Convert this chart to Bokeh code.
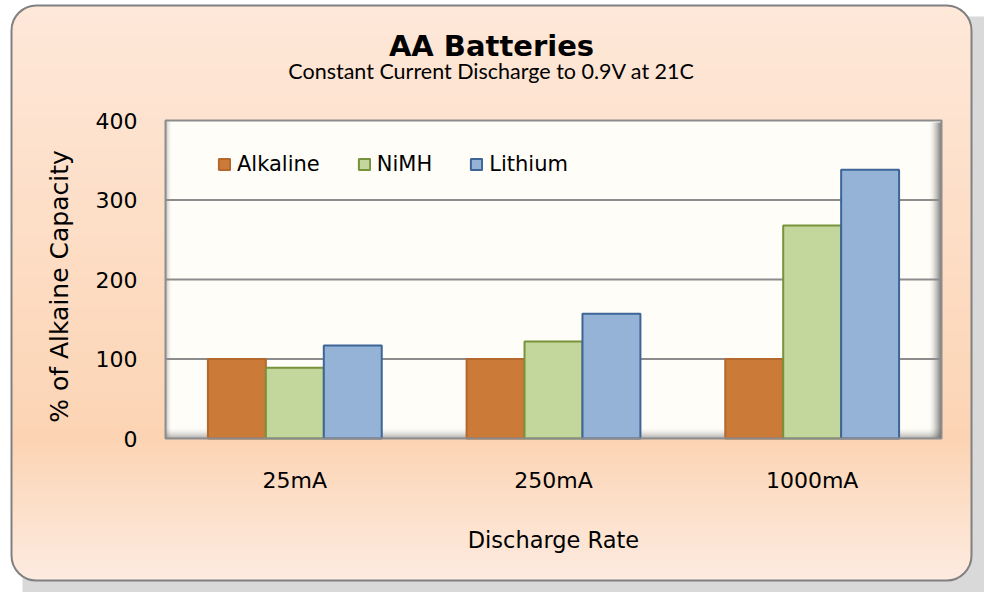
import math
from bokeh.plotting import figure
from bokeh.models import (BoxAnnotation, Label, Range1d, FixedTicker, LinearAxis,
                          Legend, LegendItem, ColumnDataSource)
from bokeh.transform import dodge
from bokeh.embed import file_html
from bokeh.resources import INLINE

# ---- data ----
categories = ["25mA", "250mA", "1000mA"]
series = ["Alkaline", "NiMH", "Lithium"]
alkaline = [100, 100, 100]
nimh = [89, 122, 268]
lithium = [117, 157, 338]
y_ticks = [0, 100, 200, 300, 400]

# ---- layout constants (canvas pixels, top-down) ----
W, H = 984, 592
FL, FR, FT, FB = 165, 941, 120, 438          # plot area
BL, BR, BT, BB, RAD = 11, 971, 5, 580, 25    # outer rounded chart box
YMAX = y_ticks[-1]
NCAT = len(categories)
PX = (FR - FL) / NCAT        # px per category unit
PY = (FB - FT) / YMAX        # px per value unit

p = figure(width=W, height=H,
           x_range=Range1d(-FL / PX, (W - FL) / PX),
           y_range=Range1d(-(H - FB) / PY, YMAX + FT / PY),
           output_backend="svg", toolbar_location=None,
           x_axis_type=None, y_axis_type=None,
           min_border=0)
p.min_border_left = p.min_border_right = p.min_border_top = p.min_border_bottom = 0
p.border_fill_color = "white"
p.background_fill_color = "white"
p.outline_line_color = None
p.xgrid.visible = False
p.ygrid.visible = False


def cbox(l, r, t, b, level="image", **kw):
    kw.setdefault("line_color", None)
    kw.setdefault("line_alpha", 1.0)
    kw.setdefault("fill_alpha", 1.0)
    return BoxAnnotation(left=l, right=r, top=t, bottom=b,
                         left_units="canvas", right_units="canvas",
                         top_units="canvas", bottom_units="canvas",
                         level=level, **kw)


def hexc(c):
    return "#%02x%02x%02x" % tuple(int(round(v)) for v in c)


def grad(y):
    stops = [(BT, (254, 232, 217)), (440, (252, 212, 180)), (BB, (253, 235, 224))]
    for (y0, c0), (y1, c1) in zip(stops[:-1], stops[1:]):
        if y <= y1:
            t = max(0.0, (y - y0) / (y1 - y0))
            return hexc([a + (b - a) * t for a, b in zip(c0, c1)])
    return hexc(stops[-1][1])


deco = []
# drop shadow of the chart box
deco.append(cbox(BL + 11, W + 30, BT + 11, H + 30, fill_color="#D9D9D9", border_radius=RAD))
# peach gradient of the chart box, as thin strips with rounded ends
y = BT
while y < BB:
    y0, y1 = y, min(y + 3, BB)
    ym = (y0 + y1) / 2
    if ym < BT + RAD:
        d = BT + RAD - ym
    elif ym > BB - RAD:
        d = ym - (BB - RAD)
    else:
        d = 0
    inset = RAD - math.sqrt(max(RAD * RAD - d * d, 0)) if d else 0
    deco.append(cbox(BL + inset, BR - inset, y0, y1, fill_color=grad(ym)))
    y += 2
# outer border
deco.append(cbox(BL, BR, BT, BB, fill_alpha=0, fill_color=None,
                 line_color="#808080", line_width=2, border_radius=RAD))
# plot area
deco.append(cbox(FL, FR, FT, FB, fill_color="#FFFDF8"))
# inner shadows of the plot area
n = 13
for i in range(n):
    deco.append(cbox(FR - n + i, FR - n + i + 1, FT + 2, FB, fill_color="#383838",
                     fill_alpha=0.78 * ((i + 1) / n) ** 2))
n = 6
for i in range(n):
    deco.append(cbox(FL + i, FL + i + 1, FT, FB, fill_color="#505050",
                     fill_alpha=0.35 * (1 - i / n) ** 2))
n = 11
for i in range(n):
    deco.append(cbox(FL, FR, FB - i - 1, FB - i, fill_color="#505050",
                     fill_alpha=0.5 * (1 - i / n) ** 2))
for d in deco:
    p.add_layout(d, "center")

# horizontal gridlines across the plot area only
grid_vals = y_ticks[1:-1]
p.segment(x0=[0] * len(grid_vals), x1=[NCAT] * len(grid_vals), y0=grid_vals, y1=grid_vals,
          line_color="#8C8C8C", line_width=2)

# bars
xc = [i + 0.5 for i in range(NCAT)]
src = ColumnDataSource(dict(x=xc, cat=categories, Alkaline=alkaline, NiMH=nimh, Lithium=lithium))
fills = ["#CC7A38", "#C3D69B", "#95B3D7"]
lines = ["#B5682C", "#77933C", "#3D6596"]
offsets = [-0.224, 0.0, 0.224]
rends = []
for s, fc, lc, off in zip(series, fills, lines, offsets):
    r = p.vbar(x=dodge("x", off), top=s, width=0.224, source=src,
               fill_color=fc, line_color=lc, line_width=2)
    rends.append(r)

# frame border of plot area
p.add_layout(cbox(FL, FR, FT, FB, level="annotation", fill_alpha=0, fill_color=None,
                  line_color="#8C8C8C", line_width=2), "center")

# axes, pinned to the plot area edges
xaxis = LinearAxis(fixed_location=0, bounds=(0, NCAT),
                   ticker=FixedTicker(ticks=xc),
                   major_label_overrides={v: c for v, c in zip(xc, categories)},
                   axis_label="Discharge Rate")
yaxis = LinearAxis(fixed_location=0, bounds=(-17, YMAX),
                   ticker=FixedTicker(ticks=y_ticks),
                   axis_label="% of Alkaine Capacity")
for ax in (xaxis, yaxis):
    ax.axis_line_color = None
    ax.major_tick_line_color = None
    ax.minor_tick_line_color = None
    ax.major_tick_out = 0
    ax.major_tick_in = 0
    ax.major_label_text_font = "DejaVu Sans"
    ax.major_label_text_font_size = "22px"
    ax.major_label_text_color = "black"
    ax.axis_label_text_font = "DejaVu Sans"
    ax.axis_label_text_font_style = "normal"
    ax.axis_label_text_color = "black"
yaxis.major_label_standoff = 28
yaxis.axis_label_text_font_size = "25px"
yaxis.axis_label_standoff = 19
xaxis.major_label_standoff = 29
xaxis.axis_label_text_font_size = "22.5px"
xaxis.axis_label_standoff = 31
p.add_layout(xaxis, "below")
p.add_layout(yaxis, "left")

# legend
legend = Legend(items=[LegendItem(label=s, renderers=[r]) for s, r in zip(series, rends)],
                orientation="horizontal", location=(FL + 52, (H - FB) + 262),
                padding=0, margin=0,
                spacing=37, label_standoff=6, glyph_width=14, glyph_height=14,
                border_line_color=None, background_fill_alpha=0,
                label_text_font="DejaVu Sans", label_text_font_size="21px",
                label_text_color="black")
p.add_layout(legend, "center")

# titles
cx = (BL + BR) / 2
p.add_layout(Label(x=cx, y=45, x_units="canvas", y_units="canvas", text="AA Batteries",
                   text_font="DejaVu Sans", text_font_style="bold", text_font_size="29px",
                   text_align="center", text_baseline="alphabetic", text_color="black"))
p.add_layout(Label(x=cx, y=70, x_units="canvas", y_units="canvas",
                   text="Constant Current Discharge to 0.9V at 21C",
                   text_font="Lato", text_font_size="21.5px",
                   text_align="center", text_baseline="alphabetic", text_color="black"))

open("out.html", "w").write(file_html(p, INLINE, "AA Batteries"))
